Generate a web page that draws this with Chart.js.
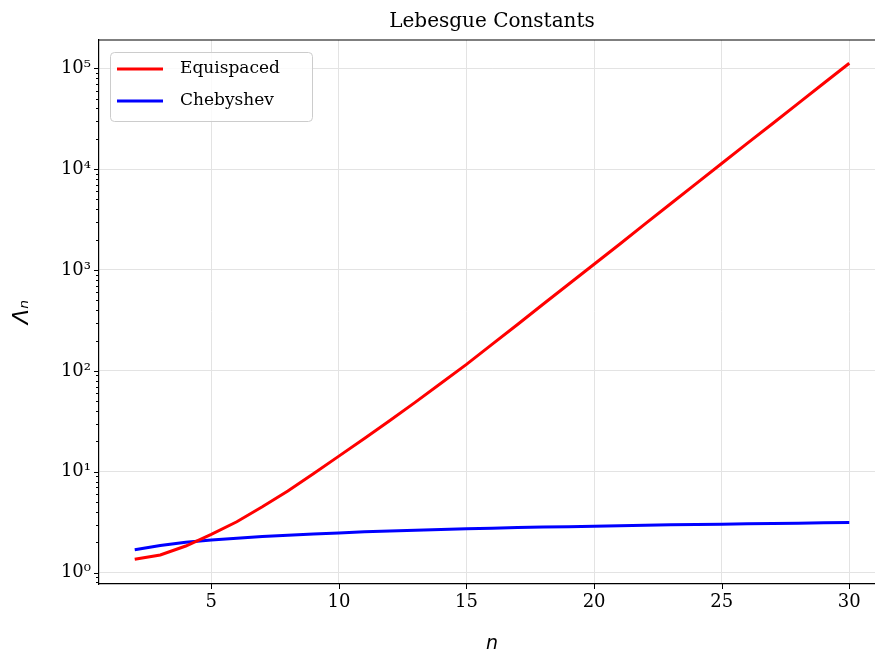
<!DOCTYPE html>
<html>
<head>
<meta charset="utf-8">
<script src="https://cdn.jsdelivr.net/npm/chart.js@4"></script>
<style>
  html, body { margin: 0; padding: 0; background: #fff; overflow: hidden; }
  #lebesgue { display: block; }
</style>
</head>
<body>
<canvas id="lebesgue" width="895" height="655"></canvas>
<script>
const nValues = [2, 3, 4, 5, 6, 7, 8, 9, 10, 11, 12, 13, 14, 15, 16, 17, 18, 19, 20, 21, 22, 23, 24, 25, 26, 27, 28, 29, 30];
const equispaced = [1.36, 1.50, 1.84, 2.40, 3.2, 4.5, 6.45, 9.55, 14.3, 21.4, 32.2, 49, 75.3, 116, 183, 288, 457, 721, 1138, 1800, 2858, 4530, 7180, 11350, 17950, 28300, 44800, 70800, 111700];
const chebyshev = [1.69, 1.86, 2.00, 2.11, 2.20, 2.28, 2.35, 2.42, 2.48, 2.54, 2.59, 2.64, 2.68, 2.72, 2.76, 2.80, 2.83, 2.86, 2.89, 2.92, 2.95, 2.98, 3.01, 3.03, 3.06, 3.08, 3.10, 3.13, 3.15];
const xTicks = [5, 10, 15, 20, 25, 30];
const seriesNames = ["Equispaced", "Chebyshev"];

const SERIF = "'DejaVu Serif', 'Liberation Serif', serif";
const SUP = { "0": "\u2070", "1": "\u00b9", "2": "\u00b2", "3": "\u00b3", "4": "\u2074", "5": "\u2075" };

const isMajor = (v) => Math.abs(Math.log10(v) - Math.round(Math.log10(v))) < 1e-9;

// tick marks, top spine, title and legend
const decor = {
  id: "decor",
  afterDraw(chart) {
    const { ctx, chartArea: a, scales } = chart;
    ctx.save();
    ctx.strokeStyle = "#000";
    ctx.lineWidth = 1.2;
    // top and right spines
    ctx.beginPath();
    ctx.moveTo(a.left, a.top);
    ctx.lineTo(a.right, a.top);
    ctx.lineTo(a.right, a.bottom);
    ctx.stroke();
    // ticks
    ctx.lineWidth = 1;
    scales.x.ticks.forEach((t) => {
      const px = Math.round(scales.x.getPixelForValue(t.value)) + 0.5;
      ctx.beginPath();
      ctx.moveTo(px, a.bottom);
      ctx.lineTo(px, a.bottom + 5);
      ctx.stroke();
    });
    scales.y.ticks.forEach((t) => {
      const py = Math.round(scales.y.getPixelForValue(t.value)) + 0.5;
      const len = isMajor(t.value) ? 5 : 3;
      ctx.beginPath();
      ctx.moveTo(a.left, py);
      ctx.lineTo(a.left - len, py);
      ctx.stroke();
    });
    // title
    ctx.fillStyle = "#000";
    ctx.font = "20px " + SERIF;
    ctx.textAlign = "center";
    ctx.textBaseline = "alphabetic";
    ctx.fillText("Lebesgue Constants", (a.left + a.right) / 2, 27);
    // legend
    const bx = a.left + 11, by = a.top + 12, bw = 202, bh = 69, r = 4;
    ctx.fillStyle = "rgba(255,255,255,0.8)";
    ctx.strokeStyle = "#cccccc";
    ctx.lineWidth = 1;
    ctx.beginPath();
    ctx.roundRect(bx + 0.5, by + 0.5, bw, bh, r);
    ctx.fill();
    ctx.stroke();
    ctx.font = "17px " + SERIF;
    ctx.textAlign = "left";
    ctx.textBaseline = "middle";
    chart.data.datasets.forEach((ds, i) => {
      const ly = by + 17 + i * 32;
      ctx.strokeStyle = ds.borderColor;
      ctx.lineWidth = 3;
      ctx.beginPath();
      ctx.moveTo(bx + 7, ly);
      ctx.lineTo(bx + 53, ly);
      ctx.stroke();
      ctx.fillStyle = "#000";
      ctx.fillText(ds.label, bx + 70, ly);
    });
    ctx.restore();
  },
};

const ctx = document.getElementById("lebesgue");

new Chart(ctx, {
  type: "line",
  data: {
    datasets: [
      {
        label: seriesNames[0],
        data: nValues.map((n, i) => ({ x: n, y: equispaced[i] })),
        borderColor: "#ff0000",
        backgroundColor: "#ff0000",
        borderWidth: 3,
        pointRadius: 0,
        tension: 0,
        fill: false,
      },
      {
        label: seriesNames[1],
        data: nValues.map((n, i) => ({ x: n, y: chebyshev[i] })),
        borderColor: "#0000ff",
        backgroundColor: "#0000ff",
        borderWidth: 3,
        pointRadius: 0,
        tension: 0,
        fill: false,
      },
    ],
  },
  options: {
    responsive: false,
    animation: false,
    devicePixelRatio: 1,
    layout: { padding: { top: 40, right: 10, left: 0, bottom: 0 } },
    scales: {
      x: {
        type: "linear",
        min: 0.6,
        max: 31.4,
        afterBuildTicks: (scale) => {
          scale.ticks = xTicks.map((v) => ({ value: v }));
        },
        afterFit: (scale) => {
          scale.height = 71;
        },
        ticks: {
          padding: 8,
          maxRotation: 0,
          color: "#000",
          font: { family: SERIF, size: 18 },
        },
        grid: { color: "#e3e3e3", lineWidth: 1, drawTicks: false },
        border: { color: "#000", width: 1.2 },
        title: {
          display: true,
          text: "n",
          color: "#000",
          font: { family: "'DejaVu Sans', sans-serif", size: 19, style: "italic" },
          padding: { top: 4, bottom: 0 },
        },
      },
      y: {
        type: "logarithmic",
        min: 0.773,
        max: 190000,
        afterBuildTicks: (scale) => {
          const list = [];
          for (let e = -1; e <= 5; e++) {
            for (let m = 1; m <= 9; m++) {
              const v = m * Math.pow(10, e);
              if (v >= scale.min && v <= scale.max) list.push({ value: v });
            }
          }
          scale.ticks = list;
        },
        afterFit: (scale) => {
          scale.width = 99;
        },
        ticks: {
          padding: 8,
          autoSkip: false,
          color: "#000",
          font: { family: SERIF, size: 18 },
          callback: (v) => {
            if (!isMajor(v)) return "";
            const e = String(Math.round(Math.log10(v)));
            return "10" + e.split("").map((c) => SUP[c]).join("");
          },
        },
        grid: {
          drawTicks: false,
          lineWidth: 1,
          color: (c) => (c.tick && isMajor(c.tick.value) ? "#e3e3e3" : "rgba(0,0,0,0)"),
        },
        border: { color: "#000", width: 1.2 },
        title: {
          display: true,
          text: "\u039b\u2099",
          color: "#000",
          font: { family: "'DejaVu Sans', sans-serif", size: 22, style: "italic" },
          padding: { top: 9, bottom: 6 },
        },
      },
    },
    plugins: {
      legend: { display: false },
      title: { display: false },
      tooltip: { enabled: false },
    },
  },
  plugins: [decor],
});
</script>
</body>
</html>
